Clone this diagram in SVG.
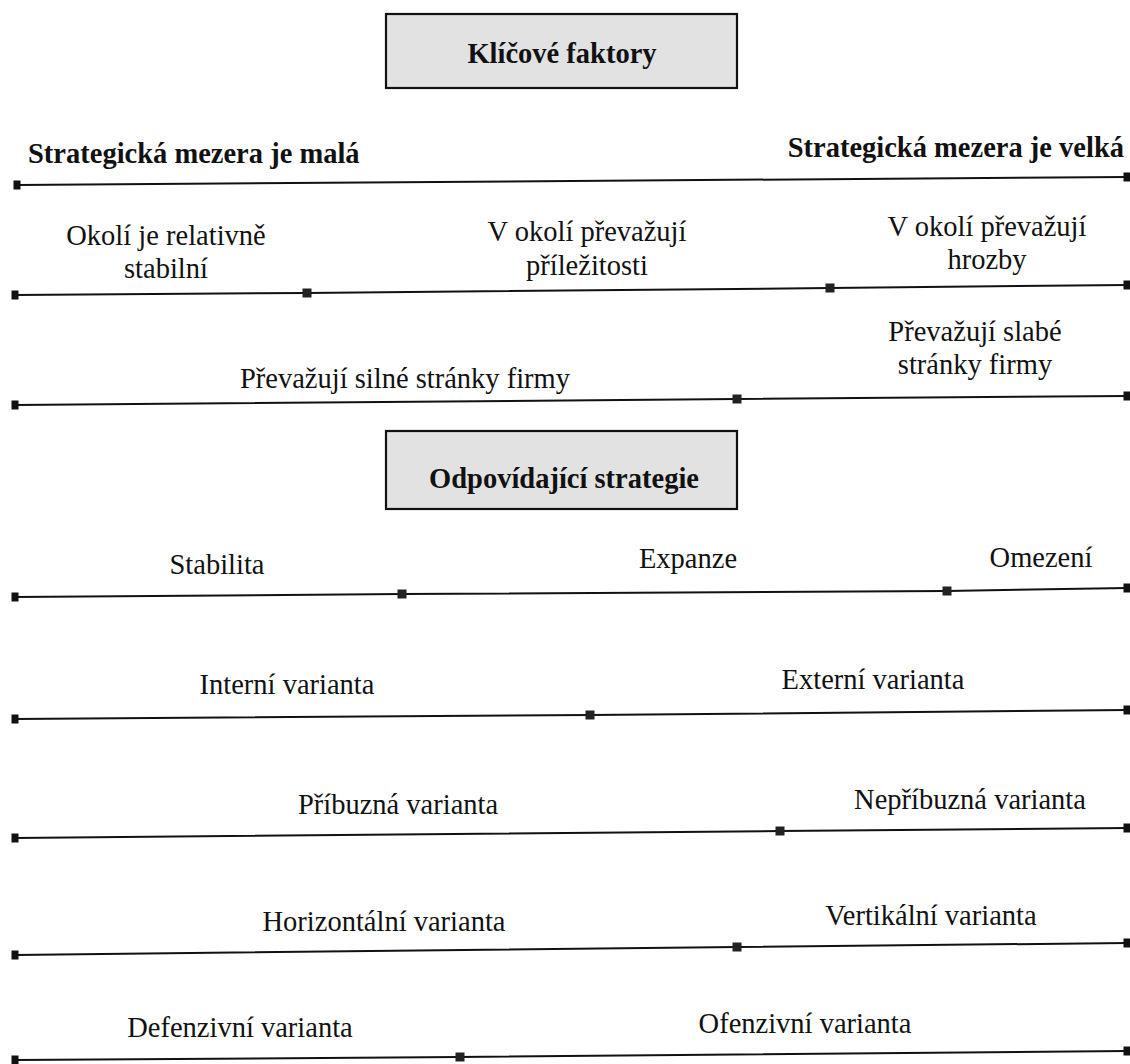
<svg xmlns="http://www.w3.org/2000/svg" width="1130" height="1064" viewBox="0 0 1130 1064">
<style>
  .bg { fill: #ffffff; }
  .box { fill: #e2e2e2; stroke: #111; stroke-width: 2.2; }
  .t { font-family: "Liberation Serif", "Times New Roman", serif; font-size: 28.5px; fill: #111; text-anchor: middle; }
  .b { font-weight: bold; }
  .ln { fill: none; stroke: #111; stroke-width: 2; marker-start: url(#endsq); marker-mid: url(#midsq); marker-end: url(#endsq); }
</style>
<defs>
  <marker id="midsq" markerUnits="userSpaceOnUse" markerWidth="10" markerHeight="10" refX="5" refY="5" orient="0">
    <rect x="0.5" y="0.5" width="9" height="9" fill="#222"/>
  </marker>
  <marker id="endsq" markerUnits="userSpaceOnUse" markerWidth="10" markerHeight="10" refX="5" refY="5" orient="0">
    <rect x="1.5" y="0.5" width="7" height="9" fill="#111"/>
  </marker>
</defs>
<rect class="bg" x="0" y="0" width="1130" height="1064"/>

<g id="connectors">
  <polyline class="ln" points="17,185 1127,177"/>
  <polyline class="ln" points="15,295 307,293 830,288 1127,285"/>
  <polyline class="ln" points="15,405 737,399 1127,396"/>
  <polyline class="ln" points="15,597 402,594 947,591 1127,588"/>
  <polyline class="ln" points="15,719 590,715 1127,710"/>
  <polyline class="ln" points="15,838 780,831 1127,828"/>
  <polyline class="ln" points="15,955 737,947 1127,943"/>
  <polyline class="ln" points="15,1060 460,1057 1127,1051"/>
</g>

<g id="box-klicove-faktory">
  <rect class="box" x="386" y="14" width="351" height="74"/>
  <text class="t b" x="562" y="63">Klíčové faktory</text>
</g>

<g id="label-mezera-mala"><text class="t b" x="28" y="163" style="text-anchor:start">Strategická mezera je malá</text></g>
<g id="label-mezera-velka"><text class="t b" x="1124" y="157" style="text-anchor:end">Strategická mezera je velká</text></g>

<g id="label-okoli-stabilni"><text class="t" x="166" y="245">Okolí je relativně</text><text class="t" x="166" y="278">stabilní</text></g>
<g id="label-okoli-prilezitosti"><text class="t" x="587" y="241">V okolí převažují</text><text class="t" x="587" y="275">příležitosti</text></g>
<g id="label-okoli-hrozby"><text class="t" x="987" y="236">V okolí převažují</text><text class="t" x="987" y="269">hrozby</text></g>

<g id="label-slabe"><text class="t" x="975" y="341">Převažují slabé</text><text class="t" x="975" y="374">stránky firmy</text></g>
<g id="label-silne"><text class="t" x="405" y="388">Převažují silné stránky firmy</text></g>

<g id="box-odpovidajici-strategie">
  <rect class="box" x="386" y="431" width="351" height="78"/>
  <text class="t b" x="564" y="488">Odpovídající strategie</text>
</g>

<g id="label-stabilita"><text class="t" x="217" y="574">Stabilita</text></g>
<g id="label-expanze"><text class="t" x="688" y="568">Expanze</text></g>
<g id="label-omezeni"><text class="t" x="1041" y="567">Omezení</text></g>

<g id="label-interni"><text class="t" x="287" y="694">Interní varianta</text></g>
<g id="label-externi"><text class="t" x="873" y="689">Externí varianta</text></g>

<g id="label-pribuzna"><text class="t" x="398" y="814">Příbuzná varianta</text></g>
<g id="label-nepribuzna"><text class="t" x="970" y="809">Nepříbuzná varianta</text></g>

<g id="label-horizontalni"><text class="t" x="384" y="931">Horizontální varianta</text></g>
<g id="label-vertikalni"><text class="t" x="931" y="925">Vertikální varianta</text></g>

<g id="label-defenzivni"><text class="t" x="240" y="1037">Defenzivní varianta</text></g>
<g id="label-ofenzivni"><text class="t" x="805" y="1033">Ofenzivní varianta</text></g>
</svg>
